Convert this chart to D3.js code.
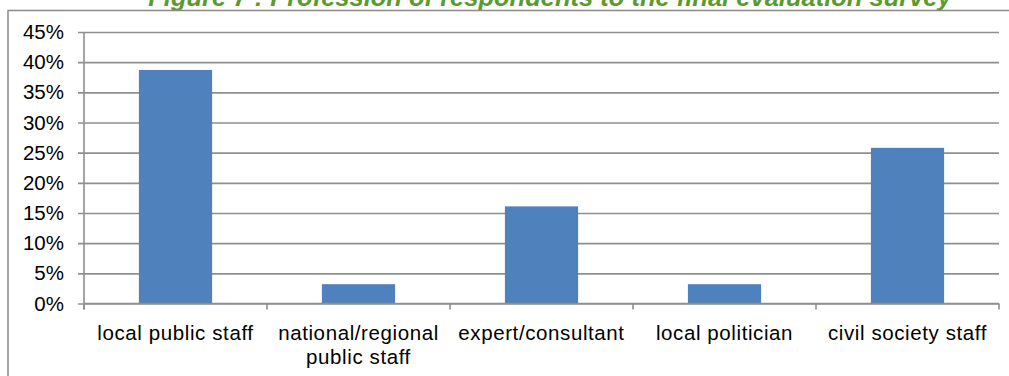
<!DOCTYPE html>
<html>
<head>
<meta charset="utf-8">
<script src="https://cdn.jsdelivr.net/npm/d3@7"></script>
<style>
  html, body { margin: 0; padding: 0; background: #fff; }
  svg { display: block; }
  text { font-family: "Liberation Sans", Arial, sans-serif; fill: #000; }
</style>
</head>
<body>
<svg id="chart" width="1009" height="376"></svg>
<script>
// Profession of respondents (share of all respondents)
const categories = [
  ["local public staff"],
  ["national/regional", "public staff"],
  ["expert/consultant"],
  ["local politician"],
  ["civil society staff"]
];
const shares = [0.387, 0.032, 0.161, 0.032, 0.258];
const yTicks = [0, 0.05, 0.10, 0.15, 0.20, 0.25, 0.30, 0.35, 0.40, 0.45];
const title = "Figure 7 : Profession of respondents to the final evaluation survey";

const svg = d3.select("#chart");
const W = 1009, H = 376;
const plotLeft = 84, plotRight = 999, plotTop = 32, plotBottom = 303.5;
const gridColor = "#8f8f8f";

const labels = categories.map(c => c.join(" "));
const x = d3.scaleBand().domain(labels).range([plotLeft, plotRight])
  .paddingInner(0.6).paddingOuter(0.3);
const y = d3.scaleLinear().domain([0, 0.45]).range([plotBottom, plotTop]);

// Title (runs off the top of the frame)
svg.append("text")
  .attr("x", 550).attr("y", 6)
  .attr("text-anchor", "middle")
  .style("font-weight", "bold").style("font-style", "italic")
  .style("font-size", "25.5px")
  .style("fill", "#5c9a30")
  .text(title);

// Outer frame
svg.append("path")
  .attr("d", `M8,${H + 5} L8,10.5 L${W + 5},10.5`)
  .attr("fill", "none").attr("stroke", "#8a8a8a").attr("stroke-width", 1.5);

// Horizontal gridlines with outward ticks
const yAxis = d3.axisLeft(y).tickValues(yTicks).tickSize(-(plotRight - plotLeft))
  .tickSizeOuter(0).tickFormat(d3.format(".0%"));
const gy = svg.append("g").attr("transform", `translate(${plotLeft},0)`).call(yAxis);
gy.select(".domain").remove();
gy.selectAll(".tick line").attr("stroke", gridColor).attr("stroke-width", 1.6)
  .attr("x1", -6);
gy.selectAll(".tick text").style("font-size", "20.5px").attr("x", -20)
  .attr("text-anchor", "end");

// Vertical axis line
svg.append("line")
  .attr("x1", plotLeft).attr("x2", plotLeft).attr("y1", plotTop).attr("y2", plotBottom + 6)
  .attr("stroke", gridColor).attr("stroke-width", 1.6);

// Bars
svg.append("g").selectAll("rect").data(shares).join("rect")
  .attr("x", (d, i) => x(labels[i]))
  .attr("width", x.bandwidth())
  .attr("y", d => y(d))
  .attr("height", d => y(0) - y(d))
  .attr("fill", "#4f81bd");

// Category axis
const step = x.step();
const xAxis = d3.axisBottom(x).tickSize(0).tickFormat("");
const gx = svg.append("g").attr("transform", `translate(0,${plotBottom})`).call(xAxis);
gx.select(".domain").attr("stroke", gridColor).attr("stroke-width", 1.6)
  .attr("d", `M${plotLeft},0H${plotRight}`);
const boundaries = d3.range(labels.length + 1).map(i => plotLeft + i * step);
gx.selectAll(".bound").data(boundaries).join("line").attr("class", "bound")
  .attr("x1", d => d).attr("x2", d => d).attr("y1", 0).attr("y2", 6)
  .attr("stroke", gridColor).attr("stroke-width", 1.6);

// Category labels
const lab = svg.append("g").selectAll("text").data(categories).join("text")
  .attr("text-anchor", "middle")
  .style("font-size", "20.5px")
  .style("letter-spacing", "0.6px");
lab.each(function (lines, i) {
  const cx = x(labels[i]) + x.bandwidth() / 2;
  d3.select(this).selectAll("tspan").data(lines).join("tspan")
    .attr("x", cx).attr("y", (d, j) => 340 + j * 24).text(d => d);
});
</script>
</body>
</html>
